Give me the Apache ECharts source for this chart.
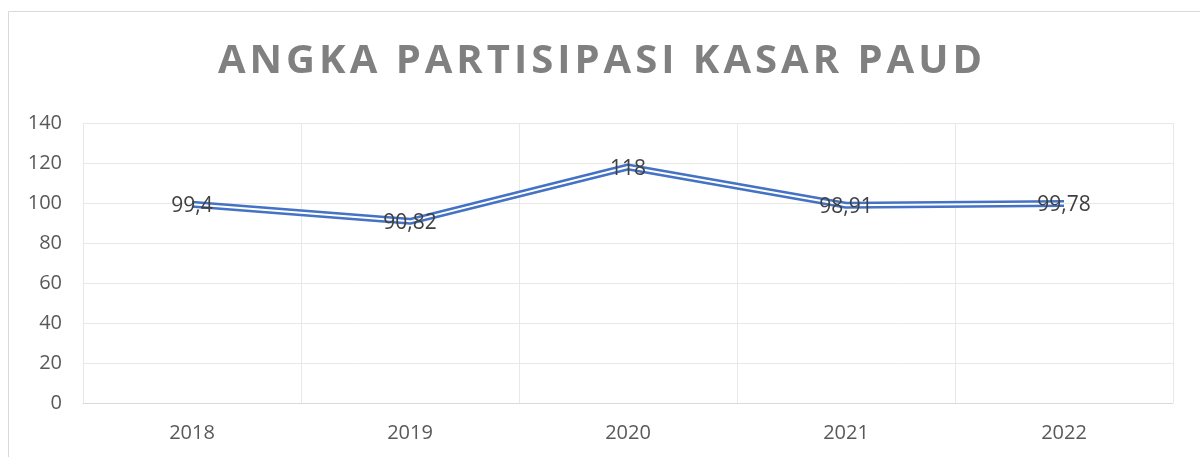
<!DOCTYPE html>
<html>
<head>
<meta charset="utf-8">
<script src="https://cdn.jsdelivr.net/npm/echarts@6/dist/echarts.min.js"></script>
<style>html,body{margin:0;padding:0;background:#fff}#c{width:1200px;height:457px}</style>
</head>
<body>
<div id="c"></div>
<script>
var titleText = "ANGKA PARTISIPASI KASAR PAUD";
var categories = ["2018", "2019", "2020", "2021", "2022"];
var values = [99.4, 90.82, 118, 98.91, 99.78];
var yTicks = [0, 20, 40, 60, 80, 100, 120, 140];

var spaced = titleText.split("").join("\u200A");
var chart = echarts.init(document.getElementById("c"));
chart.setOption({
  animation: false,
  backgroundColor: "#fff",
  title: {
    text: spaced,
    left: "center",
    top: 37,
    textStyle: { fontFamily: "Open Sans", fontWeight: "bold", fontSize: 40, color: "#808080" }
  },
  graphic: [{
    type: "rect", shape: { x: 8.5, y: 11.5, width: 1400, height: 700 },
    style: { fill: "none", stroke: "#d9d9d9", lineWidth: 1 }, z: -1, silent: true
  }],
  grid: { left: 83, right: 27, top: 123, bottom: 54, containLabel: false },
  xAxis: {
    type: "category", data: categories, boundaryGap: true,
    axisLine: { lineStyle: { color: "#d9d9d9", width: 1 } },
    axisTick: { show: false },
    splitLine: { show: true, lineStyle: { color: "#e8e8e8" } },
    axisLabel: { color: "#595959", fontFamily: "Open Sans", fontSize: 20, margin: 20 }
  },
  yAxis: {
    type: "value", min: yTicks[0], max: yTicks[yTicks.length - 1], interval: 20,
    axisLine: { show: false }, axisTick: { show: false },
    splitLine: { lineStyle: { color: "#e8e8e8" } },
    axisLabel: { color: "#595959", fontFamily: "Open Sans", fontSize: 20, margin: 21 }
  },
  series: [{
    type: "line", data: values, symbol: "none", silent: true,
    lineStyle: { color: "#4472C4", width: 7 }, z: 2
  }, {
    type: "line", data: values, symbol: "circle", symbolSize: 1, showSymbol: true, silent: true,
    itemStyle: { color: "rgba(255,255,255,0)" },
    lineStyle: { color: "#ffffff", width: 2 }, z: 3,
    label: {
      show: true, position: "inside", offset: [0, 2], color: "#404040", fontFamily: "Open Sans", fontSize: 21,
      formatter: function (p) { return String(p.value).replace(".", ","); }
    }
  }]
});
</script>
</body>
</html>
